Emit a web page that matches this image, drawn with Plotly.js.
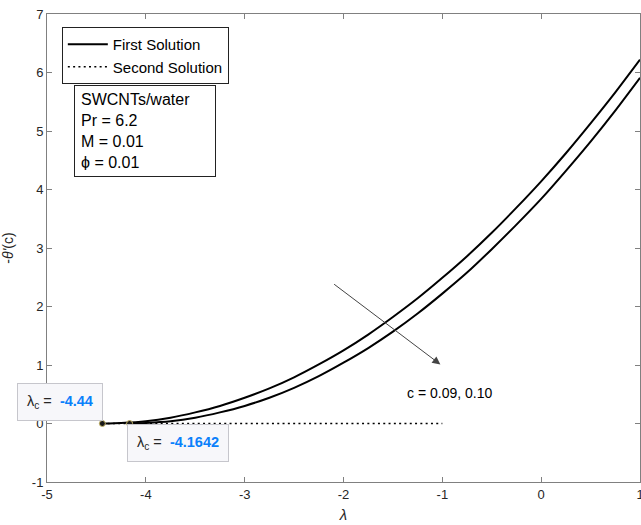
<!DOCTYPE html>
<html>
<head>
<meta charset="utf-8">
<script src="https://cdn.plot.ly/plotly-3.0.1.min.js"></script>
<style>html,body{margin:0;padding:0;background:#fff;}#chart{width:641px;height:525px;}</style>
</head>
<body>
<div id="chart"></div>
<script>
// First solution (c = 0.09), critical point at -4.44
const lamFirst = [-4.44, -4.25, -4, -3.75, -3.5, -3.25, -3, -2.75, -2.5, -2.25, -2, -1.75, -1.5, -1.25, -1, -0.75, -0.5, -0.25, 0, 0.25, 0.5, 0.75, 1];
const valFirst = [0, 0.01, 0.04, 0.10, 0.19, 0.30, 0.44, 0.60, 0.79, 1.01, 1.25, 1.52, 1.82, 2.14, 2.49, 2.86, 3.26, 3.69, 4.14, 4.62, 5.13, 5.66, 6.22];
// First solution (c = 0.10), critical point at -4.1642
const lamFirst2 = [-4.1642, -4, -3.75, -3.5, -3.25, -3, -2.75, -2.5, -2.25, -2, -1.75, -1.5, -1.25, -1, -0.75, -0.5, -0.25, 0, 0.25, 0.5, 0.75, 1];
const valFirst2 = [0, 0.01, 0.04, 0.10, 0.19, 0.30, 0.44, 0.61, 0.81, 1.04, 1.29, 1.57, 1.88, 2.22, 2.58, 2.98, 3.40, 3.84, 4.32, 4.82, 5.35, 5.91];
// Second solution (dotted)
const lamSecond = [-4.44, -1];
const valSecond = [0, 0];
// Critical points
const critLam = [-4.44, -4.1642];
const critVal = [0, 0];
const critLabels = ['-4.44', '-4.1642'];
const xTicks = [-5, -4, -3, -2, -1, 0, 1];
const yTicks = [-1, 0, 1, 2, 3, 4, 5, 6, 7];

const traces = [
  {x: lamFirst, y: valFirst, mode: 'lines', name: 'First Solution', line: {color: '#000', width: 2, shape: 'spline', smoothing: 0.6}, showlegend: true},
  {x: lamSecond, y: valSecond, mode: 'lines', name: 'Second Solution', line: {color: '#000', width: 1.5, dash: '2px,3.3px'}, showlegend: true},
  {x: lamFirst2, y: valFirst2, mode: 'lines', name: 'First Solution c=0.10', line: {color: '#000', width: 2, shape: 'spline', smoothing: 0.6}, showlegend: false},
  {x: critLam, y: critVal, mode: 'markers', marker: {color: '#1a1a1a', size: 6, line: {color: '#c9b86a', width: 1}}, showlegend: false}
];

const axisCommon = {
  showline: true, linecolor: '#808080', linewidth: 1, mirror: 'ticks',
  ticks: 'inside', ticklen: 5, tickcolor: '#808080', tickwidth: 1,
  showgrid: false, zeroline: false, tickfont: {size: 13, color: '#262626'},
  ticklabeloverflow: 'allow'
};

const tipStyle = {
  showarrow: false, bgcolor: '#f7f7fa', bordercolor: '#c6c6cc', borderwidth: 1,
  borderpad: 9, font: {size: 14.5, color: '#262626'}, xref: 'x', yref: 'y'
};

const layout = {
  width: 641, height: 525,
  margin: {l: 47, r: 1, t: 14, b: 43},
  paper_bgcolor: '#fff', plot_bgcolor: '#fff',
  font: {family: 'Liberation Sans, Arial, Helvetica, sans-serif', color: '#262626', size: 13},
  xaxis: Object.assign({}, axisCommon, {
    range: [-5, 1], tickvals: xTicks, ticktext: xTicks.map(String),
    title: {text: '<i>λ</i>', font: {size: 15}, standoff: 8}
  }),
  yaxis: Object.assign({}, axisCommon, {
    range: [-1, 7], tickvals: yTicks, ticktext: yTicks.map(String),
    title: {text: '-<i>θ\'</i>(c)', font: {size: 14}, standoff: 14}
  }),
  legend: {
    x: 0.025, y: 0.972, xanchor: 'left', yanchor: 'top',
    bgcolor: '#fff', bordercolor: '#222', borderwidth: 1, itemwidth: 40,
    font: {size: 15, color: '#000'}, tracegroupgap: 0
  },
  annotations: [
    {xref: 'paper', yref: 'paper', x: 0.0455, y: 0.848, xanchor: 'left', yanchor: 'top',
     text: 'SWCNTs/water<br>Pr = 6.2<br>M = 0.01<br>ϕ = 0.01', align: 'left', showarrow: false,
     bgcolor: '#fff', bordercolor: '#222', borderwidth: 1, borderpad: 6, width: 128, height: 78,
     font: {size: 16, color: '#000'}},
    {xref: 'x', yref: 'y', axref: 'x', ayref: 'y', x: -1.02, y: 1.01, ax: -2.11, ay: 2.40,
     text: '', showarrow: true, arrowhead: 2, arrowsize: 1.6, arrowwidth: 1, arrowcolor: '#444'},
    {xref: 'x', yref: 'y', x: -0.93, y: 0.53, text: 'c = 0.09, 0.10', showarrow: false,
     font: {size: 14, color: '#000'}},
    Object.assign({}, tipStyle, {x: -4.869, y: 0.36,
      text: 'λ<sub>c</sub> =  <b><span style="color:#0a80fa">' + critLabels[0] + '</span></b>'}),
    Object.assign({}, tipStyle, {x: -3.677, y: -0.325,
      text: 'λ<sub>c</sub> =  <b><span style="color:#0a80fa">' + critLabels[1] + '</span></b>'})
  ]
};

Plotly.newPlot('chart', traces, layout, {staticPlot: true, displayModeBar: false});
</script>
</body>
</html>
